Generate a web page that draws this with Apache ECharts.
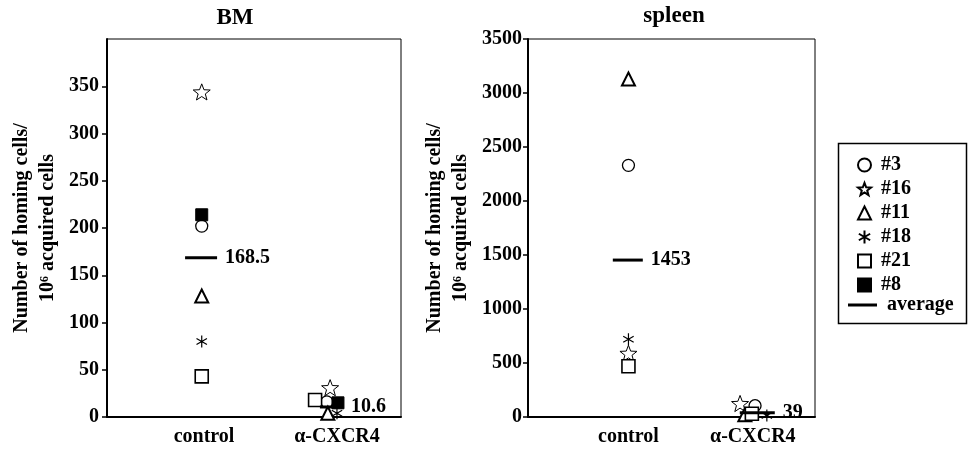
<!DOCTYPE html>
<html>
<head>
<meta charset="utf-8">
<script src="https://cdn.jsdelivr.net/npm/echarts@6/dist/echarts.min.js"></script>
<style>
  html, body { margin: 0; padding: 0; background: #fff; }
  #chart { width: 971px; height: 454px; }
</style>
</head>
<body>
<div id="chart"></div>
<script>
// mice, in legend order
var mice = ['#3', '#16', '#11', '#18', '#21', '#8'];
var groups = ['control', 'α-CXCR4'];

// BM values per mouse (control / anti-CXCR4)
var bmControl = [202, 344, 128, 80, 43, 214];
var bmAnti = [16, 31, 4, 4, 18, 15];
var bmAvg = [168.5, 10.6];
var bmTicks = [0, 50, 100, 150, 200, 250, 300, 350];

// spleen values per mouse (#8 not plotted)
var spleenControl = [2330, 590, 3130, 720, 470, null];
var spleenAnti = [105, 125, 20, 15, 30, null];
var spleenAvg = [1453, 39];
var spleenTicks = [0, 500, 1000, 1500, 2000, 2500, 3000, 3500];

// x placement of each group on a 0-9 strip, and per-mouse spread
var bmGroupX = [2.9, 6.87];
var bmAntiSpread = [-0.14, -0.04, -0.11, 0.17, -0.5, 0.2];
var bmLabelX = [2.97, 7.04];
var spleenGroupX = [3.15, 7.19];
var spleenAntiSpread = [-0.07, -0.54, -0.39, 0.3, -0.17, 0];
var spleenLabelX = [3.15, 7.05];

var FONT = 'Liberation Serif';
var starPath = 'path://M0,-1 L0.247,-0.34 L0.951,-0.309 L0.399,0.13 L0.588,0.809 L0,0.42 L-0.588,0.809 L-0.399,0.13 L-0.951,-0.309 L-0.247,-0.34 Z';
var astPath = 'path://M0,-1L0,1M-0.87,-0.5L0.87,0.5M-0.87,0.5L0.87,-0.5';

var markers = {
  '#3':  { symbol: 'circle', size: 12, fill: '#fff', bw: 1.3 },
  '#16': { symbol: starPath, size: 17, fill: '#fff', bw: 1 },
  '#11': { symbol: 'triangle', size: 13, fill: '#fff', bw: 2 },
  '#18': { symbol: astPath, size: 12, fill: '#000', bw: 1.2 },
  '#21': { symbol: 'rect', size: 13, fill: '#fff', bw: 1.6 },
  '#8':  { symbol: 'rect', size: 12, fill: '#000', bw: 1 }
};

var chart = echarts.init(document.getElementById('chart'));

function yAxisFor(gridIndex, max, ticks, gap, margin) {
  return {
    type: 'value', gridIndex: gridIndex, min: 0, max: max,
    name: 'Number of homing cells/\n10⁶ acquired cells',
    nameLocation: 'middle', nameGap: gap,
    nameTextStyle: { fontFamily: FONT, fontWeight: 'bold', fontSize: 20, color: '#000', lineHeight: 26 },
    axisLine: { show: true, lineStyle: { color: '#000', width: 2 } },
    axisTick: { show: true, length: 5, customValues: ticks, lineStyle: { color: '#000', width: 1.5 } },
    splitLine: { show: false },
    axisLabel: {
      customValues: ticks,
      fontFamily: FONT, fontWeight: 'bold', fontSize: 20, color: '#000', margin: margin,
      formatter: function (v) { return String(v); }
    }
  };
}

function xAxisFor(gridIndex, labelX) {
  return {
    type: 'value', gridIndex: gridIndex, min: 0, max: 9,
    axisLine: { show: true, lineStyle: { color: '#000', width: 2 } },
    axisTick: { show: false },
    splitLine: { show: false },
    axisLabel: {
      customValues: labelX,
      fontFamily: FONT, fontWeight: 'bold', fontSize: 20, color: '#000', margin: 10,
      formatter: function (v) { return groups[labelX.indexOf(v)] || ''; }
    }
  };
}

var series = [];
function addPanel(gi, ctrl, anti, groupX, spread) {
  mice.forEach(function (m, i) {
    var mk = markers[m];
    var pts = [];
    if (ctrl[i] != null) pts.push([groupX[0], ctrl[i]]);
    if (anti[i] != null) pts.push([groupX[1] + spread[i], anti[i]]);
    series.push({
      name: m, type: 'scatter', xAxisIndex: gi, yAxisIndex: gi,
      symbol: mk.symbol, symbolSize: mk.size, symbolKeepAspect: true,
      itemStyle: { color: mk.fill, borderColor: '#000', borderWidth: mk.bw, opacity: 1 },
      data: pts, silent: true
    });
  });
}
addPanel(0, bmControl, bmAnti, bmGroupX, bmAntiSpread);
addPanel(1, spleenControl, spleenAnti, spleenGroupX, spleenAntiSpread);

function addAvg(gi, avg, groupX, widths) {
  series.push({
    name: 'average', type: 'scatter', xAxisIndex: gi, yAxisIndex: gi,
    symbol: 'rect',
    symbolSize: function (val, p) { return [widths[p.dataIndex], 3]; },
    itemStyle: { color: '#000', opacity: 1 },
    label: {
      show: true, position: 'right',
      distance: 8,
      fontFamily: FONT, fontWeight: 'bold', fontSize: 20, color: '#000',
      formatter: function (p) { return p.value[1]; }
    },
    data: avg.map(function (v, i) { return [groupX[i], v]; }),
    z: 3, silent: true
  });
}
addAvg(0, bmAvg, [2.88, 6.87], [32, 23]);
addAvg(1, spleenAvg, [3.13, 7.19], [30, 35]);

var legendText = { fontFamily: FONT, fontWeight: 'bold', fontSize: 20, lineHeight: 20, color: '#000', padding: [0, 0, 0, 5] };

chart.setOption({
  animation: false,
  grid: [
    { left: 107, top: 39, width: 294, height: 378, show: true, borderColor: '#000', borderWidth: 1 },
    { left: 528, top: 39, width: 287, height: 378, show: true, borderColor: '#000', borderWidth: 1 }
  ],
  xAxis: [xAxisFor(0, bmLabelX), xAxisFor(1, spleenLabelX)],
  yAxis: [yAxisFor(0, 400, bmTicks, 46, 8), yAxisFor(1, 3500, spleenTicks, 54, 6)],
  legend: [
    {
      data: mice, orient: 'vertical', left: 852, top: 150,
      itemWidth: 13, itemHeight: 13, itemGap: 4,
      selectedMode: false, textStyle: legendText
    },
    {
      data: [{ name: 'average', icon: 'rect' }], orient: 'vertical', left: 843, top: 290,
      itemWidth: 29, itemHeight: 3, selectedMode: false, textStyle: legendText
    }
  ],
  graphic: [
    { type: 'text', x: 235, y: 18, style: { text: 'BM', align: 'center', verticalAlign: 'middle', font: 'bold 23px "Liberation Serif"', fill: '#000' } },
    { type: 'text', x: 674, y: 16, style: { text: 'spleen', align: 'center', verticalAlign: 'middle', font: 'bold 23px "Liberation Serif"', fill: '#000' } },
    { type: 'rect', shape: { x: 838.5, y: 143.5, width: 128, height: 180 }, style: { fill: 'none', stroke: '#000', lineWidth: 1.5 }, z: -1 }
  ],
  series: series
});
</script>
</body>
</html>
